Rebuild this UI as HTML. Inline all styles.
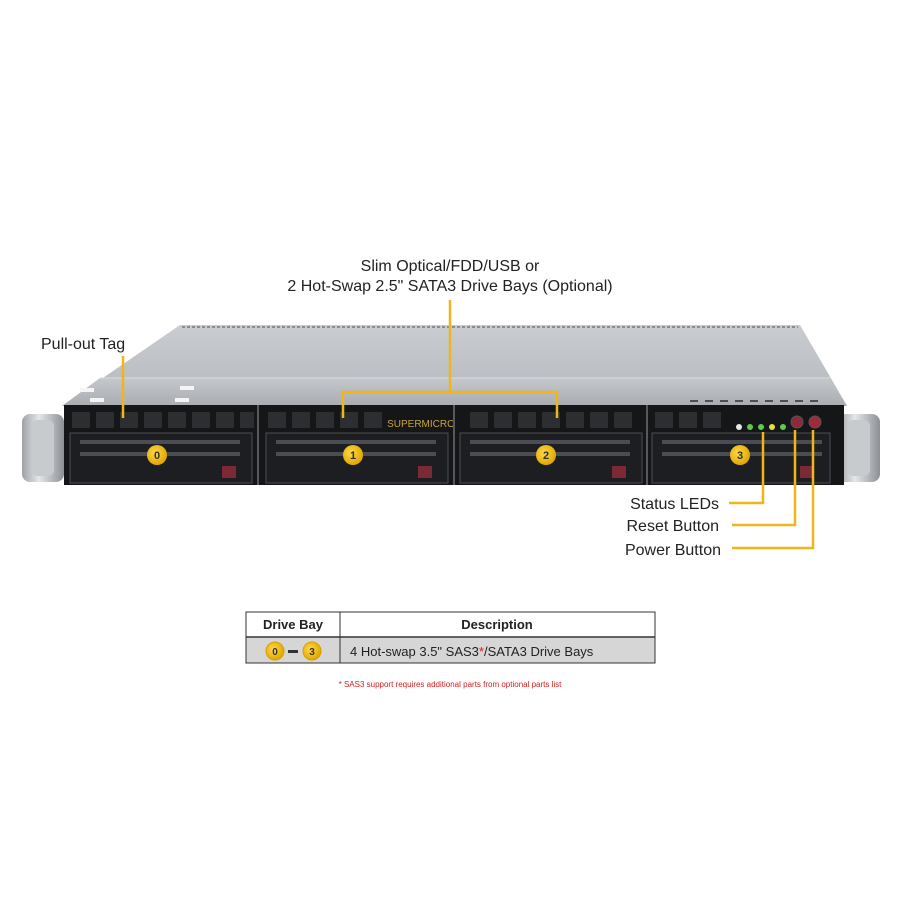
<!DOCTYPE html>
<html><head><meta charset="utf-8"><style>
html,body{margin:0;padding:0;background:#fff;}
svg{display:block;}
text{font-family:"Liberation Sans",Arial,sans-serif;}
</style></head><body>
<svg width="900" height="900" viewBox="0 0 900 900" xmlns="http://www.w3.org/2000/svg">
<defs>
<linearGradient id="lid" x1="0" y1="0" x2="0" y2="1">
<stop offset="0" stop-color="#c9ccd0"/><stop offset="1" stop-color="#b4b8bd"/>
</linearGradient>
<linearGradient id="strip" x1="0" y1="0" x2="0" y2="1">
<stop offset="0" stop-color="#c4c7cb"/><stop offset="1" stop-color="#a9adb2"/>
</linearGradient>
<linearGradient id="hdl" x1="0" y1="0" x2="1" y2="0">
<stop offset="0" stop-color="#9ea2a7"/><stop offset="0.4" stop-color="#e4e6e8"/><stop offset="1" stop-color="#8c9095"/>
</linearGradient>
<radialGradient id="yc" cx="0.4" cy="0.4" r="0.6">
<stop offset="0" stop-color="#ffd84a"/><stop offset="1" stop-color="#e0a800"/>
</radialGradient>
</defs>

<!-- handles -->
<rect x="22" y="414" width="42" height="68" rx="8" fill="url(#hdl)"/>
<rect x="32" y="420" width="22" height="56" rx="6" fill="#c8cbce"/>
<rect x="838" y="414" width="42" height="68" rx="8" fill="url(#hdl)"/>
<rect x="848" y="420" width="22" height="56" rx="6" fill="#c8cbce"/>

<!-- chassis lid -->
<polygon points="180,325 800,325 847,406 62,406" fill="url(#lid)"/>
<line x1="182" y1="327" x2="798" y2="327" stroke="#8a8e93" stroke-width="2" stroke-dasharray="3,2"/>
<polygon points="100,378 830,378 847,406 62,406" fill="url(#strip)"/>
<line x1="100" y1="378" x2="830" y2="378" stroke="#d9dbde" stroke-width="1"/>
<rect x="80" y="388" width="14" height="4" fill="#f4f4f4"/>
<rect x="180" y="386" width="14" height="4" fill="#f4f4f4"/>
<rect x="90" y="398" width="14" height="4" fill="#f4f4f4"/>
<rect x="175" y="398" width="14" height="4" fill="#f4f4f4"/>
<g fill="#4c5055">
<rect x="690" y="400" width="8" height="2"/><rect x="705" y="400" width="8" height="2"/><rect x="720" y="400" width="8" height="2"/><rect x="735" y="400" width="8" height="2"/><rect x="750" y="400" width="8" height="2"/><rect x="765" y="400" width="8" height="2"/><rect x="780" y="400" width="8" height="2"/><rect x="795" y="400" width="8" height="2"/><rect x="810" y="400" width="8" height="2"/>
</g>

<!-- front panel -->
<rect x="64" y="405" width="780" height="80" fill="#151618"/>
<g fill="#2c2e31">
<!-- vents row -->
<rect x="72" y="412" width="18" height="16"/><rect x="96" y="412" width="18" height="16"/><rect x="120" y="412" width="18" height="16"/><rect x="144" y="412" width="18" height="16"/><rect x="168" y="412" width="18" height="16"/><rect x="192" y="412" width="18" height="16"/><rect x="216" y="412" width="18" height="16"/><rect x="240" y="412" width="14" height="16"/>
<rect x="268" y="412" width="18" height="16"/><rect x="292" y="412" width="18" height="16"/><rect x="316" y="412" width="18" height="16"/><rect x="340" y="412" width="18" height="16"/><rect x="364" y="412" width="18" height="16"/>
<rect x="470" y="412" width="18" height="16"/><rect x="494" y="412" width="18" height="16"/><rect x="518" y="412" width="18" height="16"/><rect x="542" y="412" width="18" height="16"/><rect x="566" y="412" width="18" height="16"/><rect x="590" y="412" width="18" height="16"/><rect x="614" y="412" width="18" height="16"/>
<rect x="655" y="412" width="18" height="16"/><rect x="679" y="412" width="18" height="16"/><rect x="703" y="412" width="18" height="16"/>
</g>
<text x="421" y="427" font-size="10" fill="#c9a43a" text-anchor="middle" font-family="Liberation Serif,serif">SUPERMICRO</text>
<line x1="258" y1="405" x2="258" y2="485" stroke="#55585c" stroke-width="2"/>
<line x1="454" y1="405" x2="454" y2="485" stroke="#55585c" stroke-width="2"/>
<line x1="647" y1="405" x2="647" y2="485" stroke="#55585c" stroke-width="2"/>

<!-- trays -->
<g>
<rect x="70" y="433" width="182" height="50" fill="#1d1e21" stroke="#4a4d51"/>
<rect x="266" y="433" width="182" height="50" fill="#1d1e21" stroke="#4a4d51"/>
<rect x="460" y="433" width="182" height="50" fill="#1d1e21" stroke="#4a4d51"/>
<rect x="652" y="433" width="178" height="50" fill="#1d1e21" stroke="#4a4d51"/>
</g>
<g fill="#4a4d51">
<rect x="80" y="440" width="160" height="4"/><rect x="80" y="452" width="160" height="4"/>
<rect x="276" y="440" width="160" height="4"/><rect x="276" y="452" width="160" height="4"/>
<rect x="470" y="440" width="160" height="4"/><rect x="470" y="452" width="160" height="4"/>
<rect x="662" y="440" width="160" height="4"/><rect x="662" y="452" width="160" height="4"/>
</g>
<g fill="#7a2a35">
<rect x="222" y="466" width="14" height="12"/><rect x="418" y="466" width="14" height="12"/><rect x="612" y="466" width="14" height="12"/><rect x="800" y="466" width="14" height="12"/>
</g>

<!-- LEDs and buttons -->
<circle cx="739" cy="427" r="3" fill="#e8e8e8"/>
<circle cx="750" cy="427" r="3" fill="#5ecb4b"/>
<circle cx="761" cy="427" r="3" fill="#5ecb4b"/>
<circle cx="772" cy="427" r="3" fill="#e3e045"/>
<circle cx="783" cy="427" r="3" fill="#5ecb4b"/>
<circle cx="797" cy="422" r="6" fill="#8a2a3a" stroke="#555"/>
<circle cx="815" cy="422" r="6" fill="#a02a3a" stroke="#555"/>

<!-- numbered circles -->
<g font-size="11" font-weight="bold" text-anchor="middle" fill="#333">
<circle cx="157" cy="455" r="10" fill="url(#yc)"/><text x="157" y="459">0</text>
<circle cx="353" cy="455" r="10" fill="url(#yc)"/><text x="353" y="459">1</text>
<circle cx="546" cy="455" r="10" fill="url(#yc)"/><text x="546" y="459">2</text>
<circle cx="740" cy="455" r="10" fill="url(#yc)"/><text x="740" y="459">3</text>
</g>

<!-- callout lines -->
<g stroke="#f0b41c" stroke-width="2.5" fill="none">
<polyline points="450,300 450,392"/>
<polyline points="343,418 343,392 557,392 557,418"/>
<polyline points="123,356 123,418"/>
<polyline points="763,432 763,503 729,503"/>
<polyline points="795,430 795,525 732,525"/>
<polyline points="813,430 813,548 732,548"/>
</g>

<!-- labels -->
<g font-size="16" fill="#222">
<text x="450" y="271" text-anchor="middle">Slim Optical/FDD/USB or</text>
<text x="450" y="291" text-anchor="middle">2 Hot-Swap 2.5" SATA3 Drive Bays (Optional)</text>
<text x="41" y="349">Pull-out Tag</text>
<text x="719" y="509" text-anchor="end">Status LEDs</text>
<text x="719" y="531" text-anchor="end">Reset Button</text>
<text x="721" y="555" text-anchor="end">Power Button</text>
</g>

<!-- table -->
<rect x="246" y="637" width="409" height="26" fill="#d6d6d6"/>
<rect x="246" y="612" width="409" height="51" fill="none" stroke="#333" stroke-width="1"/>
<line x1="246" y1="637" x2="655" y2="637" stroke="#333" stroke-width="1.5"/>
<line x1="340" y1="612" x2="340" y2="663" stroke="#333"/>
<text x="293" y="629" font-size="13" font-weight="bold" text-anchor="middle" fill="#222">Drive Bay</text>
<text x="497" y="629" font-size="13" font-weight="bold" text-anchor="middle" fill="#222">Description</text>
<g font-size="10" font-weight="bold" text-anchor="middle" fill="#333">
<circle cx="275" cy="651" r="9" fill="url(#yc)" stroke="#d8a000"/><text x="275" y="655">0</text>
<circle cx="312" cy="651" r="9" fill="url(#yc)" stroke="#d8a000"/><text x="312" y="655">3</text>
</g>
<rect x="288" y="650" width="10" height="3" fill="#333"/>
<text x="350" y="656" font-size="13" fill="#222">4 Hot-swap 3.5" SAS3<tspan fill="#d02020">*</tspan>/SATA3 Drive Bays</text>
<text x="450" y="687" font-size="8" fill="#d02020" text-anchor="middle">* SAS3 support requires additional parts from optional parts list</text>
</svg>
</body></html>
